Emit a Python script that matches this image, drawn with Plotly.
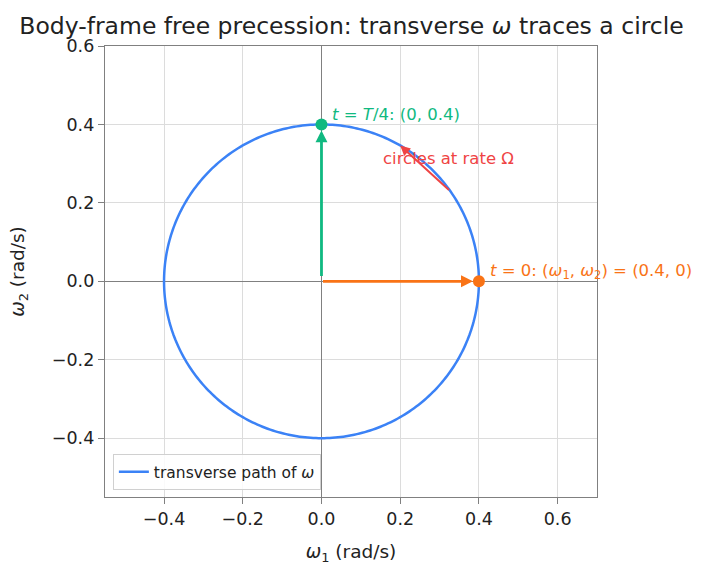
import numpy as np
import plotly.graph_objects as go

# data
radius = 0.4
theta_deg = list(range(0, 361, 1))
arc_start_deg = 35
arc_end_deg = 60
t0_point = [0.4, 0.0]
tq_point = [0.0, 0.4]
x_ticks = [-0.4, -0.2, 0.0, 0.2, 0.4, 0.6]
y_ticks = [-0.4, -0.2, 0.0, 0.2, 0.4, 0.6]

BLUE = "#3b82f6"
ORANGE = "#f97316"
GREEN = "#10b981"
RED = "#ef4444"
FONT = "DejaVu Sans"

th = np.radians(theta_deg)
cx = radius * np.cos(th)
cy = radius * np.sin(th)

fig = go.Figure()
fig.add_trace(go.Scatter(x=cx, y=cy, mode="lines", line=dict(color=BLUE, width=2.5, simplify=False),
                         name="transverse path of <i>ω</i>"))
fig.add_trace(go.Scatter(x=[t0_point[0]], y=[t0_point[1]], mode="markers",
                         marker=dict(color=ORANGE, size=12), showlegend=False))
fig.add_trace(go.Scatter(x=[tq_point[0]], y=[tq_point[1]], mode="markers",
                         marker=dict(color=GREEN, size=12), showlegend=False))

anns = []
# orange arrow
anns.append(dict(x=t0_point[0], y=t0_point[1], ax=0, ay=0, xref="x", yref="y", axref="x", ayref="y",
                 showarrow=True, arrowhead=2, arrowsize=0.85, arrowwidth=2.8, arrowcolor=ORANGE,
                 standoff=6, text=""))
# green arrow
anns.append(dict(x=tq_point[0], y=tq_point[1], ax=0, ay=0.01, xref="x", yref="y", axref="x", ayref="y",
                 showarrow=True, arrowhead=2, arrowsize=0.85, arrowwidth=2.8, arrowcolor=GREEN,
                 standoff=6, text=""))
# red arrow along circle
a0 = np.radians(arc_start_deg)
a1 = np.radians(arc_end_deg)
anns.append(dict(x=radius * np.cos(a1), y=radius * np.sin(a1), ax=radius * np.cos(a0), ay=radius * np.sin(a0),
                 xref="x", yref="y", axref="x", ayref="y",
                 showarrow=True, arrowhead=2, arrowsize=1.0, arrowwidth=2.0, arrowcolor=RED, text=""))
anns.append(dict(x=0.15, y=0.285, xref="x", yref="y", text="circles at rate Ω", showarrow=False,
                 xanchor="left", yanchor="bottom", font=dict(color=RED, size=16.5, family=FONT)))
anns.append(dict(x=0.022, y=0.397, xref="x", yref="y", text="<i>t</i> = <i>T</i>/4: (0, 0.4)", showarrow=False,
                 xanchor="left", yanchor="bottom", font=dict(color=GREEN, size=16.5, family=FONT)))
anns.append(dict(x=0.423, y=-0.008, xref="x", yref="y",
                 text="<i>t</i> = 0: (<i>ω</i><sub>1</sub>, <i>ω</i><sub>2</sub>) = (0.4, 0)", showarrow=False,
                 xanchor="left", yanchor="bottom", font=dict(color=ORANGE, size=16.5, family=FONT)))

fig.update_layout(
    width=703, height=575,
    margin=dict(l=105, r=106, t=46, b=78),
    paper_bgcolor="white", plot_bgcolor="white",
    font=dict(family=FONT, size=17, color="#222222"),
    title=dict(text="Body-frame free precession: transverse <i>ω</i> traces a circle",
               x=0.5, xanchor="center", y=0.956, yanchor="middle",
               font=dict(size=23.5, family=FONT, color="#222222")),
    annotations=anns,
    showlegend=True,
    legend=dict(x=0.016, y=0.015, xanchor="left", yanchor="bottom", bgcolor="rgba(255,255,255,0.85)",
                bordercolor="#d0d0d0", borderwidth=1, font=dict(size=15.5, family=FONT),
                itemwidth=30),
)
axis_common = dict(showgrid=True, gridcolor="#dcdcdc", gridwidth=1, zeroline=True, zerolinecolor="#808080",
                   zerolinewidth=1.4, showline=True, linecolor="#808080", linewidth=1.4, mirror=True,
                   ticks="outside", ticklen=6, tickcolor="#808080", tickfont=dict(size=17.5, family=FONT, color="#222222"))
fig.update_xaxes(range=[-0.55, 0.7], tickvals=x_ticks, tickformat=".1f",
                 title=dict(text="<i>ω</i><sub>1</sub> (rad/s)", font=dict(size=18.5, family=FONT), standoff=16),
                 **axis_common)
fig.update_yaxes(range=[-0.55, 0.6], tickvals=y_ticks, tickformat=".1f",
                 title=dict(text="<i>ω</i><sub>2</sub> (rad/s)", font=dict(size=18.5, family=FONT), standoff=22),
                 **axis_common)

fig.write_html("out.html")
